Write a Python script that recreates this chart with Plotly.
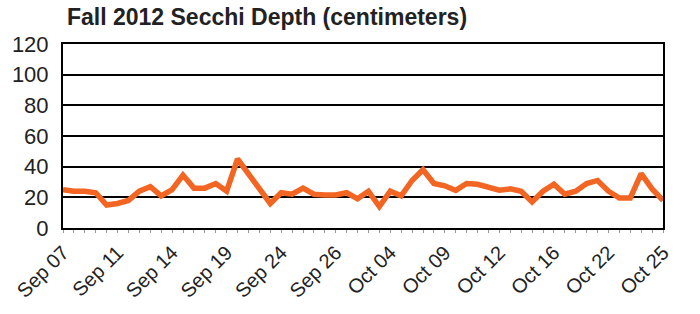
import plotly.graph_objects as go

# Secchi depth readings (cm), one per sample, evenly spaced on a category axis
depth_cm = [25, 24, 24, 23, 15, 16, 18, 24, 27, 21,
            25, 34.5, 26, 26, 29, 24, 45, 35, 25.5, 16,
            23, 22, 26, 22, 21.5, 21.5, 23, 19, 24, 14,
            24, 21, 31, 38, 29, 27.5, 24.5, 29, 28.5, 27,
            24.7, 25.5, 24, 17, 24, 28.5, 22, 24, 29, 31,
            24, 19.5, 19.5, 35.5, 25.5, 18]

# Tick labels shown every 5th sample
tick_labels = ["Sep 07", "Sep 11", "Sep 14", "Sep 19", "Sep 24", "Sep 26",
               "Oct 04", "Oct 09", "Oct 12", "Oct 16", "Oct 22", "Oct 25"]
label_step = 5

y_ticks = [0, 20, 40, 60, 80, 100, 120]

n = len(depth_cm)
xs = list(range(n))
tickvals = xs
ticktext = [tick_labels[i // label_step] if i % label_step == 0 else "" for i in xs]

font_family = "Liberation Sans, Arial, Helvetica, sans-serif"

fig = go.Figure()
fig.add_trace(go.Scatter(
    x=xs, y=depth_cm, mode="lines",
    line=dict(color="#F26522", width=5.5),
    hoverinfo="skip",
))

fig.update_layout(
    width=700, height=314,
    margin=dict(l=61, r=37, t=44, b=85),
    paper_bgcolor="white", plot_bgcolor="white",
    showlegend=False,
    title=dict(
        text="<b>Fall 2012 Secchi Depth (centimeters)</b>",
        x=267 / 700, xanchor="center", xref="paper" if False else "container",
        y=1 - 17 / 314, yanchor="middle", yref="container",
        font=dict(family=font_family, size=23, color="#222222"),
    ),
    font=dict(family=font_family, color="#222222"),
)

fig.update_xaxes(
    range=[0, n - 1],
    tickmode="array", tickvals=tickvals, ticktext=ticktext,
    tickangle=-45,
    ticks="outside", ticklen=3, tickcolor="#999999", tickwidth=1,
    tickfont=dict(size=20, family=font_family, color="#222222"),
    showgrid=False, zeroline=False,
    showline=True, linecolor="black", linewidth=2, mirror=True,
)

fig.update_yaxes(
    range=[0, 120],
    tickmode="array", tickvals=y_ticks,
    ticks="", ticklabelstandoff=8,
    tickfont=dict(size=22, family=font_family, color="#222222"),
    showgrid=True, gridcolor="black", gridwidth=2,
    zeroline=False,
    showline=True, linecolor="black", linewidth=2, mirror=True,
)

fig.write_html("out.html")
